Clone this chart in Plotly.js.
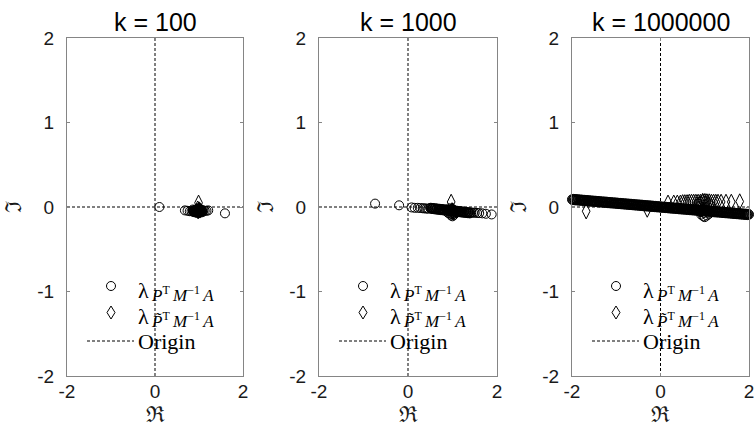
<!DOCTYPE html>
<html>
<head>
<meta charset="utf-8">
<script src="https://cdn.plot.ly/plotly-3.0.1.min.js"></script>
<style>
  html, body { margin: 0; padding: 0; background: #ffffff; }
  #chart { width: 754px; height: 442px; }
</style>
</head>
<body>
<div id="chart"></div>
<script>
// Panel titles (shift parameter k)
const panelTitles = ['k = 100', 'k = 1000', 'k = 1000000'];

// Axis labels: real and imaginary parts
const xLabel = 'ℜ';
const yLabel = 'ℑ';

// Legend labels
const legendLambda = 'λ';
const legendSubP = '<i>P</i><sup>T</sup>\u2009<i>M</i><sup>−1</sup>\u2009<i>A</i>';
const legendSubPt = '<i>P̃</i><sup>T</sup>\u2009<i>M</i><sup>−1</sup>\u2009<i>A</i>';
const legendOrigin = 'Origin';

// Dashed axes through the origin
const originX = [-2, 2, null, 0, 0];
const originY = [0, 0, null, -2, 2];

// ---------- k = 100 ----------
const k100CircRe = [0.10, 0.68, 0.74, 0.79, 0.83, 0.86, 0.88, 0.90, 0.92, 0.94, 0.95, 0.96, 0.97, 0.98,
  0.99, 1.00, 1.01, 1.02, 1.03, 1.04, 1.06, 1.08, 1.10, 1.13, 1.17, 1.21, 1.59,
  0.86, 0.88, 0.90, 0.92, 0.94, 0.96, 0.98, 1.00, 1.02, 1.04, 1.06, 1.08,
  0.87, 0.89, 0.91, 0.93, 0.95, 0.97, 0.99, 1.01, 1.03, 1.05, 1.07];
const k100CircIm = [0.000, -0.040, -0.045, -0.050, -0.050, -0.045, -0.055, -0.040, -0.060, -0.030, -0.060, -0.045, -0.020, -0.055,
  -0.060, -0.040, -0.015, -0.055, -0.035, -0.055, -0.045, -0.050, -0.040, -0.045, -0.045, -0.040, -0.075,
  -0.030, -0.060, -0.035, -0.065, -0.030, -0.070, -0.025, -0.070, -0.030, -0.065, -0.035, -0.060,
  -0.045, -0.050, -0.045, -0.050, -0.045, -0.050, -0.045, -0.050, -0.045, -0.050, -0.045];
const k100DiamRe = [0.99, 0.97, 1.00, 1.02, 0.98];
const k100DiamIm = [0.050, -0.020, -0.030, -0.040, -0.050];

// ---------- k = 1000 ----------
const k1000CircRe = [-0.74, -0.20, 0.08, 0.15, 0.22, 0.28, 0.33, 0.37, 0.41, 0.45,
  0.500, 0.525, 0.550, 0.575, 0.600, 0.625, 0.650, 0.675, 0.700, 0.725,
  0.750, 0.775, 0.800, 0.825, 0.850, 0.875, 0.900, 0.925, 0.950, 0.975,
  1.000, 1.025, 1.050, 1.075, 1.100, 1.125, 1.150, 1.175, 1.200, 1.225,
  1.250, 1.275, 1.300, 1.325, 1.350, 1.375, 1.400,
  0.5125, 0.5375, 0.5625, 0.5875, 0.6125, 0.6375, 0.6625, 0.6875, 0.7125, 0.7375,
  0.7625, 0.7875, 0.8125, 0.8375, 0.8625, 0.8875, 0.9125, 0.9375, 0.9625, 0.9875,
  1.0125, 1.0375, 1.0625, 1.0875, 1.1125, 1.1375, 1.1625, 1.1875, 1.2125, 1.2375,
  1.2625, 1.2875, 1.3125, 1.3375, 1.3625, 1.3875,
  0.90, 0.95, 0.98, 1.00, 1.02, 1.05, 0.93, 1.08, 0.97, 1.00, 1.03,
  1.42, 1.46, 1.50, 1.55, 1.60, 1.67, 1.75, 1.88];
const k1000CircIm = [0.040, 0.020, -0.005, -0.010, -0.010, -0.012, -0.015, -0.016, -0.018, -0.020,
  -0.012, -0.020, -0.015, -0.023, -0.018, -0.026, -0.021, -0.029, -0.024, -0.032,
  -0.027, -0.035, -0.030, -0.038, -0.033, -0.041, -0.036, -0.044, -0.040, -0.047,
  -0.043, -0.050, -0.046, -0.053, -0.049, -0.056, -0.052, -0.059, -0.055, -0.062,
  -0.058, -0.065, -0.061, -0.068, -0.064, -0.071, -0.067,
  -0.009, -0.024, -0.012, -0.027, -0.015, -0.030, -0.018, -0.033, -0.021, -0.037,
  -0.024, -0.040, -0.027, -0.043, -0.030, -0.046, -0.033, -0.049, -0.036, -0.052,
  -0.039, -0.055, -0.042, -0.058, -0.045, -0.061, -0.048, -0.064, -0.052, -0.067,
  -0.055, -0.070, -0.058, -0.073, -0.061, -0.076,
  -0.070, -0.080, -0.020, -0.085, -0.030, -0.075, -0.015, -0.065, -0.100, -0.110, -0.095,
  -0.066, -0.067, -0.068, -0.070, -0.072, -0.075, -0.080, -0.088];
const k1000DiamRe = [0.97, 0.99, 1.00, 1.01];
const k1000DiamIm = [0.060, -0.040, -0.050, -0.045];

// ---------- k = 1000000 ----------
const k1e6CircRe = [
  -2.000, -1.975, -1.950, -1.925, -1.900, -1.875, -1.850, -1.825, -1.800, -1.775,
  -1.750, -1.725, -1.700, -1.675, -1.650, -1.625, -1.600, -1.575, -1.550, -1.525,
  -1.500, -1.475, -1.450, -1.425, -1.400, -1.375, -1.350, -1.325, -1.300, -1.275,
  -1.250, -1.225, -1.200, -1.175, -1.150, -1.125, -1.100, -1.075, -1.050, -1.025,
  -1.000, -0.975, -0.950, -0.925, -0.900, -0.875, -0.850, -0.825, -0.800, -0.775,
  -0.750, -0.725, -0.700, -0.675, -0.650, -0.625, -0.600, -0.575, -0.550, -0.525,
  -0.500, -0.475, -0.450, -0.425, -0.400, -0.375, -0.350, -0.325, -0.300, -0.275,
  -0.250, -0.225, -0.200, -0.175, -0.150, -0.125, -0.100, -0.075, -0.050, -0.025,
  0.000, 0.025, 0.050, 0.075, 0.100, 0.125, 0.150, 0.175, 0.200, 0.225,
  0.250, 0.275, 0.300, 0.325, 0.350, 0.375, 0.400, 0.425, 0.450, 0.475,
  0.500, 0.525, 0.550, 0.575, 0.600, 0.625, 0.650, 0.675, 0.700, 0.725,
  0.750, 0.775, 0.800, 0.825, 0.850, 0.875, 0.900, 0.925, 0.950, 0.975,
  1.000, 1.025, 1.050, 1.075, 1.100, 1.125, 1.150, 1.175, 1.200, 1.225,
  1.250, 1.275, 1.300, 1.325, 1.350, 1.375, 1.400, 1.425, 1.450, 1.475,
  1.500, 1.525, 1.550, 1.575, 1.600, 1.625, 1.650, 1.675, 1.700, 1.725,
  1.750, 1.775, 1.800, 1.825, 1.850, 1.875, 1.900, 1.925, 1.950, 1.975,
  2.000,
  0.85, 0.90, 0.92, 0.95, 0.97, 1.00, 1.00, 1.02, 1.05, 1.08, 1.10, 0.95, 1.00, 1.03, 0.98, 0.90, 1.12, 0.88];
const k1e6CircIm = [
  0.091, 0.088, 0.089, 0.086, 0.087, 0.083, 0.084, 0.081, 0.082, 0.079,
  0.080, 0.077, 0.078, 0.074, 0.075, 0.072, 0.073, 0.070, 0.071, 0.068,
  0.069, 0.065, 0.066, 0.063, 0.064, 0.061, 0.062, 0.059, 0.060, 0.056,
  0.057, 0.054, 0.055, 0.052, 0.053, 0.050, 0.051, 0.047, 0.048, 0.045,
  0.046, 0.043, 0.044, 0.041, 0.042, 0.038, 0.039, 0.036, 0.037, 0.034,
  0.035, 0.032, 0.033, 0.029, 0.030, 0.027, 0.028, 0.025, 0.026, 0.023,
  0.024, 0.020, 0.021, 0.018, 0.019, 0.016, 0.017, 0.014, 0.015, 0.011,
  0.012, 0.009, 0.010, 0.007, 0.008, 0.005, 0.006, 0.002, 0.003, 0.000,
  0.001, -0.002, -0.001, -0.004, -0.004, -0.007, -0.006, -0.009, -0.008, -0.011,
  -0.010, -0.013, -0.013, -0.016, -0.015, -0.018, -0.017, -0.020, -0.019, -0.022,
  -0.022, -0.025, -0.024, -0.027, -0.026, -0.029, -0.028, -0.031, -0.031, -0.034,
  -0.033, -0.036, -0.035, -0.038, -0.037, -0.040, -0.040, -0.043, -0.042, -0.045,
  -0.044, -0.047, -0.046, -0.049, -0.049, -0.052, -0.051, -0.054, -0.053, -0.056,
  -0.055, -0.058, -0.058, -0.061, -0.060, -0.063, -0.062, -0.065, -0.064, -0.067,
  -0.067, -0.070, -0.069, -0.072, -0.071, -0.074, -0.073, -0.076, -0.076, -0.079,
  -0.078, -0.081, -0.080, -0.083, -0.082, -0.085, -0.085, -0.088, -0.087, -0.090,
  -0.090,
  0.040, 0.060, -0.090, 0.080, -0.110, 0.100, -0.120, 0.070, -0.100, 0.050, -0.080, -0.050, 0.030, -0.030, -0.070, -0.060, 0.020, 0.010];
// Interleaved eigenvalues of the same band (k = 1000000)
const k1e6BandRe = [
  -1.9875, -1.9625, -1.9375, -1.9125, -1.8875, -1.8625, -1.8375, -1.8125, -1.7875, -1.7625,
  -1.7375, -1.7125, -1.6875, -1.6625, -1.6375, -1.6125, -1.5875, -1.5625, -1.5375, -1.5125,
  -1.4875, -1.4625, -1.4375, -1.4125, -1.3875, -1.3625, -1.3375, -1.3125, -1.2875, -1.2625,
  -1.2375, -1.2125, -1.1875, -1.1625, -1.1375, -1.1125, -1.0875, -1.0625, -1.0375, -1.0125,
  -0.9875, -0.9625, -0.9375, -0.9125, -0.8875, -0.8625, -0.8375, -0.8125, -0.7875, -0.7625,
  -0.7375, -0.7125, -0.6875, -0.6625, -0.6375, -0.6125, -0.5875, -0.5625, -0.5375, -0.5125,
  -0.4875, -0.4625, -0.4375, -0.4125, -0.3875, -0.3625, -0.3375, -0.3125, -0.2875, -0.2625,
  -0.2375, -0.2125, -0.1875, -0.1625, -0.1375, -0.1125, -0.0875, -0.0625, -0.0375, -0.0125,
  0.0125, 0.0375, 0.0625, 0.0875, 0.1125, 0.1375, 0.1625, 0.1875, 0.2125, 0.2375,
  0.2625, 0.2875, 0.3125, 0.3375, 0.3625, 0.3875, 0.4125, 0.4375, 0.4625, 0.4875,
  0.5125, 0.5375, 0.5625, 0.5875, 0.6125, 0.6375, 0.6625, 0.6875, 0.7125, 0.7375,
  0.7625, 0.7875, 0.8125, 0.8375, 0.8625, 0.8875, 0.9125, 0.9375, 0.9625, 0.9875,
  1.0125, 1.0375, 1.0625, 1.0875, 1.1125, 1.1375, 1.1625, 1.1875, 1.2125, 1.2375,
  1.2625, 1.2875, 1.3125, 1.3375, 1.3625, 1.3875, 1.4125, 1.4375, 1.4625, 1.4875,
  1.5125, 1.5375, 1.5625, 1.5875, 1.6125, 1.6375, 1.6625, 1.6875, 1.7125, 1.7375,
  1.7625, 1.7875, 1.8125, 1.8375, 1.8625, 1.8875, 1.9125, 1.9375, 1.9625, 1.9875];
const k1e6BandIm = [
  0.081, 0.096, 0.079, 0.094, 0.077, 0.092, 0.075, 0.090, 0.072, 0.087,
  0.070, 0.085, 0.068, 0.083, 0.066, 0.081, 0.063, 0.078, 0.061, 0.076,
  0.059, 0.074, 0.057, 0.072, 0.054, 0.069, 0.052, 0.067, 0.050, 0.065,
  0.048, 0.063, 0.045, 0.060, 0.043, 0.058, 0.041, 0.056, 0.039, 0.054,
  0.036, 0.051, 0.034, 0.049, 0.032, 0.047, 0.030, 0.045, 0.027, 0.042,
  0.025, 0.040, 0.023, 0.038, 0.021, 0.036, 0.018, 0.033, 0.016, 0.031,
  0.014, 0.029, 0.012, 0.027, 0.009, 0.024, 0.007, 0.022, 0.005, 0.020,
  0.003, 0.018, 0.000, 0.015, -0.002, 0.013, -0.004, 0.011, -0.006, 0.009,
  -0.009, 0.006, -0.011, 0.004, -0.013, 0.002, -0.015, 0.000, -0.018, -0.003,
  -0.020, -0.005, -0.022, -0.007, -0.024, -0.009, -0.027, -0.012, -0.029, -0.014,
  -0.031, -0.016, -0.033, -0.018, -0.036, -0.021, -0.038, -0.023, -0.040, -0.025,
  -0.042, -0.027, -0.045, -0.030, -0.047, -0.032, -0.049, -0.034, -0.051, -0.036,
  -0.054, -0.039, -0.056, -0.041, -0.058, -0.043, -0.060, -0.045, -0.063, -0.048,
  -0.065, -0.050, -0.067, -0.052, -0.069, -0.054, -0.072, -0.057, -0.074, -0.059,
  -0.076, -0.061, -0.078, -0.063, -0.081, -0.066, -0.083, -0.068, -0.085, -0.070,
  -0.087, -0.072, -0.090, -0.075, -0.092, -0.077, -0.094, -0.079, -0.096, -0.081];
const k1e6DiamRe = [-1.68, -0.30, 0.17, 0.30, 0.38, 0.45, 0.50, 0.55, 0.60, 0.65, 0.70, 0.75, 0.80, 0.85,
  0.90, 0.95, 1.00, 1.05, 1.10, 1.15, 1.20, 1.25, 1.30, 1.37, 1.48, 1.60, 1.79];
const k1e6DiamIm = [-0.050, -0.030, 0.050, 0.050, 0.050, 0.050, 0.055, 0.055, 0.055, 0.060, 0.060, 0.060, 0.060, 0.060,
  0.060, 0.070, 0.065, 0.065, 0.065, 0.060, 0.060, 0.060, 0.060, 0.060, 0.060, 0.060, 0.065];

// Tick values and labels shared by all panels
const yTickVals = [-2, -1, 0, 1, 2];
const yTickText = ['-2', '-1', '0', '1', '2'];
const xTickVals = [-2, 0, 2];
const xTickText = ['-2', '0', '2'];

const panels = [
  { cr: k100CircRe, ci: k100CircIm, dr: k100DiamRe, di: k100DiamIm },
  { cr: k1000CircRe, ci: k1000CircIm, dr: k1000DiamRe, di: k1000DiamIm },
  { cr: k1e6CircRe.concat(k1e6BandRe), ci: k1e6CircIm.concat(k1e6BandIm), dr: k1e6DiamRe, di: k1e6DiamIm }
];

// Figure geometry in pixels
const W = 754, H = 442;
const panelLeft = [67, 319, 572];
const panelRight = [243, 497, 749];
const plotTop = 38, plotBottom = 376;
const px = v => v / W;
const py = v => 1 - v / H;

const ink = '#000000';
const frame = '#858585';
const textInk = '#1a1a1a';
const sansFont = 'Liberation Sans, Arial, sans-serif';
const serifFont = 'Liberation Serif, DejaVu Serif, serif';

const traces = [];
const layout = {
  width: W, height: H,
  margin: { l: 0, r: 0, t: 0, b: 0 },
  paper_bgcolor: '#ffffff',
  plot_bgcolor: '#ffffff',
  showlegend: false,
  annotations: [],
  shapes: []
};

panels.forEach((p, i) => {
  const sfx = i === 0 ? '' : String(i + 1);
  const xa = 'x' + sfx, ya = 'y' + sfx;
  const L = panelLeft[i];

  traces.push({
    type: 'scatter', mode: 'markers', x: p.cr, y: p.ci,
    xaxis: xa, yaxis: ya, cliponaxis: false,
    marker: { symbol: 'circle-open', size: 9, color: ink, line: { width: 1, color: ink } },
    hoverinfo: 'skip'
  });
  traces.push({
    type: 'scatter', mode: 'markers', x: p.dr, y: p.di,
    xaxis: xa, yaxis: ya, cliponaxis: false,
    marker: { symbol: 'diamond-tall-open', size: 11, color: ink, line: { width: 1, color: ink } },
    hoverinfo: 'skip'
  });
  traces.push({
    type: 'scatter', mode: 'lines', x: originX, y: originY,
    xaxis: xa, yaxis: ya,
    line: { color: ink, width: 1, dash: '3px,2px' },
    hoverinfo: 'skip'
  });

  layout['xaxis' + sfx] = {
    domain: [px(L), px(panelRight[i])], anchor: ya, range: [-2, 2],
    tickmode: 'array', tickvals: xTickVals, ticktext: xTickText,
    ticks: 'inside', ticklen: 3, tickcolor: frame, tickwidth: 1,
    showline: true, linecolor: frame, linewidth: 1, mirror: 'ticks',
    showgrid: false, zeroline: false, ticklabelstandoff: -2,
    ticklabeloverflow: 'allow',
    tickfont: { family: sansFont, size: 19, color: textInk },
    title: { text: xLabel, standoff: 2, font: { family: 'DejaVu Serif, serif', size: 22, color: textInk } }
  };
  layout['yaxis' + sfx] = {
    domain: [py(plotBottom), py(plotTop)], anchor: xa, range: [-2, 2],
    tickmode: 'array', tickvals: yTickVals, ticktext: yTickText,
    ticks: 'inside', ticklen: 3, tickcolor: frame, tickwidth: 1,
    showline: true, linecolor: frame, linewidth: 1, mirror: 'ticks',
    showgrid: false, zeroline: false, ticklabelstandoff: 8,
    ticklabeloverflow: 'allow',
    tickfont: { family: sansFont, size: 19, color: textInk }
  };

  // Rotated y label placed left of the tick labels
  layout.annotations.push({
    xref: 'paper', yref: 'paper',
    x: px(L - 54), y: py(207),
    xanchor: 'center', yanchor: 'middle', showarrow: false, textangle: -90,
    text: yLabel,
    font: { family: 'DejaVu Serif, serif', size: 22, color: textInk }
  });

  // Panel title
  layout.annotations.push({
    xref: 'paper', yref: 'paper',
    x: px((L + panelRight[i]) / 2), y: py(22),
    xanchor: 'center', yanchor: 'middle', showarrow: false,
    text: panelTitles[i],
    font: { family: sansFont, size: 25, color: ink }
  });

  // Legend box contents
  const cx = L + 44;
  layout.shapes.push({
    type: 'circle', xref: 'paper', yref: 'paper',
    x0: px(cx - 4.5), x1: px(cx + 4.5), y0: py(286 + 4.5), y1: py(286 - 4.5),
    line: { color: ink, width: 1 }, fillcolor: 'rgba(0,0,0,0)'
  });
  layout.shapes.push({
    type: 'path', xref: 'paper', yref: 'paper',
    path: 'M' + px(cx) + ',' + py(306) + ' L' + px(cx + 4) + ',' + py(312.5) +
          ' L' + px(cx) + ',' + py(319) + ' L' + px(cx - 4) + ',' + py(312.5) + ' Z',
    line: { color: ink, width: 1 }, fillcolor: 'rgba(0,0,0,0)'
  });
  layout.shapes.push({
    type: 'line', xref: 'paper', yref: 'paper',
    x0: px(L + 20), x1: px(L + 67), y0: py(341), y1: py(341),
    line: { color: ink, width: 1, dash: '3px,2px' }
  });
  [[290, 294, legendSubP], [316, 320, legendSubPt]].forEach(row => {
    layout.annotations.push({
      xref: 'paper', yref: 'paper', x: px(L + 70), y: py(row[0]),
      xanchor: 'left', yanchor: 'middle', showarrow: false, borderpad: 0,
      text: legendLambda, font: { family: serifFont, size: 22, color: ink }
    });
    layout.annotations.push({
      xref: 'paper', yref: 'paper', x: px(L + 83), y: py(row[1]),
      xanchor: 'left', yanchor: 'middle', showarrow: false, borderpad: 0,
      text: row[2], font: { family: serifFont, size: 17, color: ink }
    });
  });
  layout.annotations.push({
    xref: 'paper', yref: 'paper', x: px(L + 70), y: py(341),
    xanchor: 'left', yanchor: 'middle', showarrow: false, borderpad: 0,
    text: legendOrigin, font: { family: serifFont, size: 22, color: ink }
  });
});

Plotly.newPlot('chart', traces, layout, { staticPlot: true, displayModeBar: false });
</script>
</body>
</html>
